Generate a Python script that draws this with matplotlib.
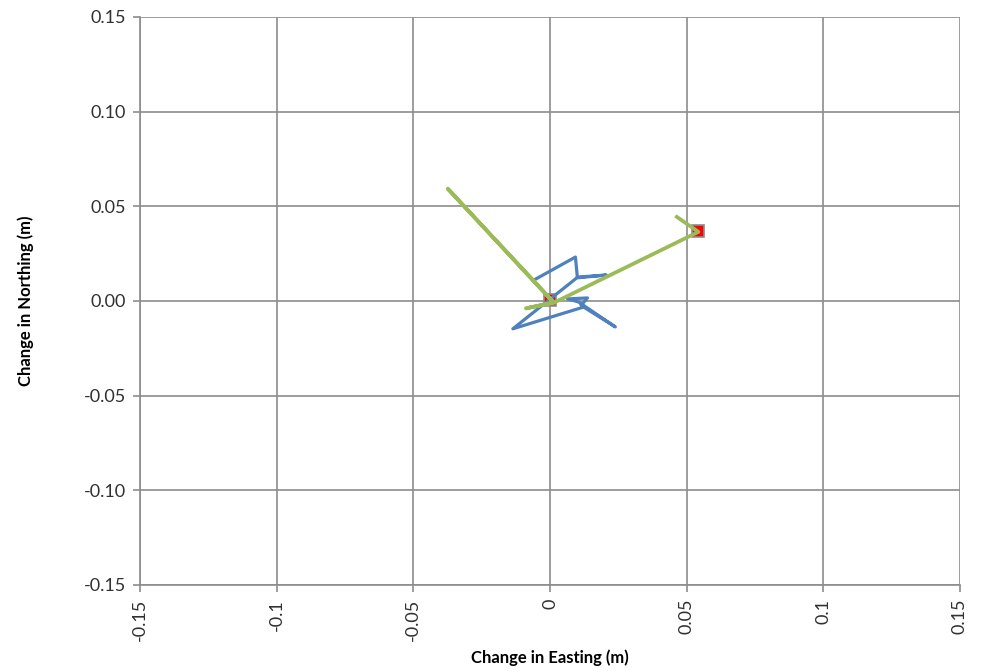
import numpy as np
import matplotlib
matplotlib.use("Agg")
import matplotlib.pyplot as plt

plt.rcParams['font.family'] = ['Lato', 'DejaVu Sans']

# blue trace (easting, northing in m)
blue_e = [-0.0052, 0.0093, 0.0100, 0.0206, 0.0098, -0.0136, 0.0123, 0.0239,
          0.0104, 0.0064, 0.0137, 0.0115]
blue_n = [0.0116, 0.0232, 0.0126, 0.0137, 0.0122, -0.0147, -0.0032, -0.0137,
          -0.0005, 0.0011, 0.0016, -0.0021]

# green trace
green_e = [0.0010, -0.0374, 0.0015, -0.0088, 0.0020, 0.0543, 0.0464]
green_n = [-0.0004, 0.0593, -0.0009, -0.0039, -0.0005, 0.0365, 0.0444]

# red markers
red_e = [0.0000, 0.0541]
red_n = [0.0005, 0.0371]

x_ticks = [-0.15, -0.1, -0.05, 0, 0.05, 0.1, 0.15]
x_labels = ['-0.15', '-0.1', '-0.05', '0', '0.05', '0.1', '0.15']
y_ticks = [-0.15, -0.10, -0.05, 0.00, 0.05, 0.10, 0.15]

fig = plt.figure(figsize=(9.84, 6.71), dpi=100)
ax = fig.add_axes([0.1423, 0.1282, 0.8333, 0.8465])

ax.plot(blue_e, blue_n, color='#4F81BD', lw=2.3, zorder=3)
ax.plot(green_e, green_n, color='#9BBB59', lw=2.7, zorder=4)
ax.plot(red_e, red_n, ls='none', marker='s', ms=8, mfc='#FF0000',
        mec='#8C8C8C', mew=1.2, zorder=2)

ax.set_xlim(-0.15, 0.15)
ax.set_ylim(-0.15, 0.15)
ax.set_xticks(x_ticks)
ax.set_xticklabels(x_labels, rotation=90, fontsize=13)
ax.set_yticks(y_ticks)
ax.set_yticklabels(['%.2f' % v for v in y_ticks], fontsize=13)
ax.grid(True, color='#8C8C8C', lw=1.2)
ax.set_axisbelow(True)
for s in ax.spines.values():
    s.set_visible(False)
ax.spines['left'].set_visible(True)
ax.spines['bottom'].set_visible(True)
ax.spines['left'].set_color('#8C8C8C')
ax.spines['bottom'].set_color('#8C8C8C')
ax.spines['left'].set_linewidth(1.2)
ax.spines['bottom'].set_linewidth(1.2)
ax.tick_params(axis='both', color='#8C8C8C', length=5, width=1.2, labelcolor='#303030', pad=5)

ax.set_xlabel('Change in Easting (m)', fontsize=12, fontweight='bold', labelpad=6)
ax.set_ylabel('Change in Northing (m)', fontsize=12, fontweight='bold', labelpad=36)

fig.savefig('out.png', dpi=100)
